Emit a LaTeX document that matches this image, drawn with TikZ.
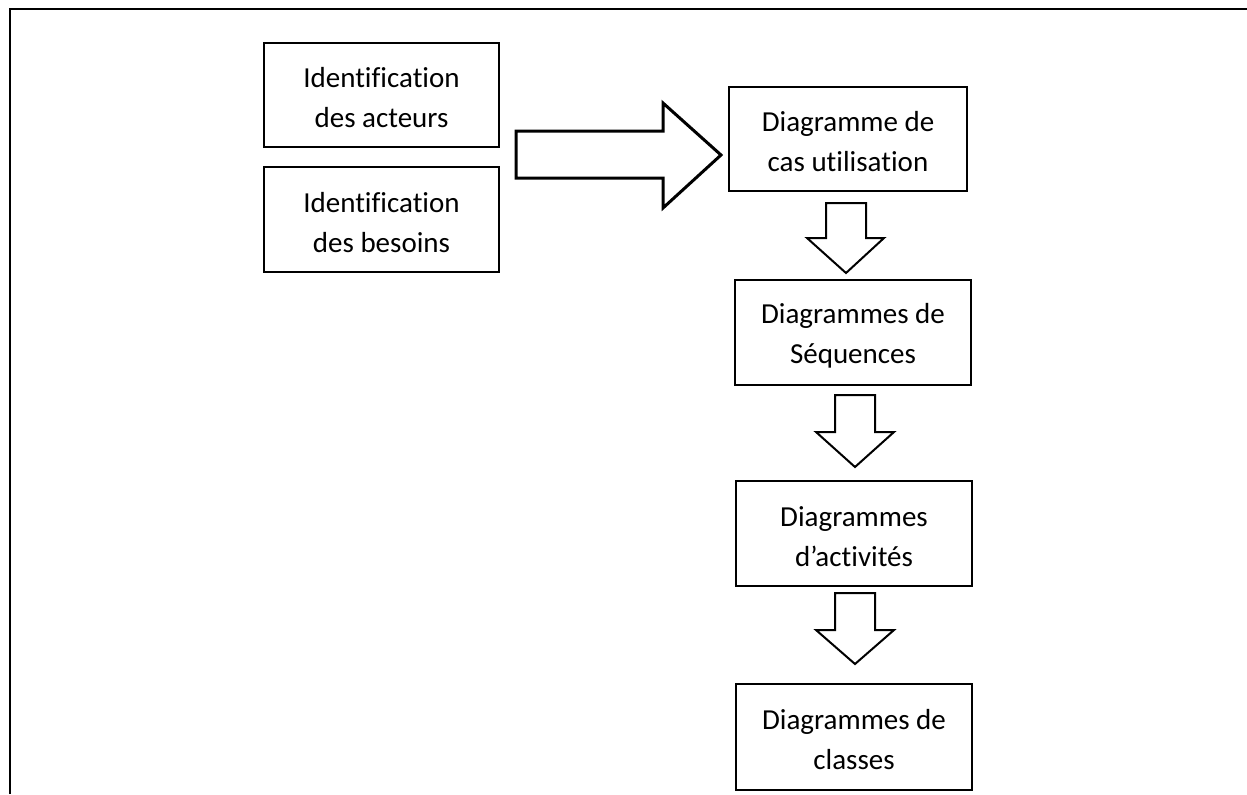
\documentclass[tikz,border=0pt]{standalone}
\usepackage{fontspec}
\setmainfont{Carlito}[Ligatures=NoCommon]
\begin{document}
\begin{tikzpicture}[x=0.5pt,y=-0.5pt,
  stepbox/.style={draw=black,line width=1pt,rectangle,inner sep=0pt},
  steptext/.style={align=center,inner sep=0pt,yshift=-1.5pt,
    font=\fontsize{14.5}{20}\selectfont},
  blockarrow/.style={draw=black,fill=white,line join=miter},
]
\useasboundingbox (0,0) rectangle (1247,794);
% open frame: top and left edges only
\draw[line width=1.1pt] (10,794) -- (10,9) -- (1247,9);

% boxes
\node[stepbox,minimum width=117.5pt,minimum height=52pt] (acteurs) at (381.5,95) {};
\node[steptext] (acteursT) at (acteurs.center) {Identification\\des acteurs};
\node[stepbox,minimum width=117.5pt,minimum height=52.5pt] (besoins) at (381.5,219.5) {};
\node[steptext] (besoinsT) at (besoins.center) {Identification\\des besoins};
\node[stepbox,minimum width=119pt,minimum height=52pt] (cas) at (848,139) {};
\node[steptext] (casT) at (cas.center) {Diagramme de\\cas utilisation};
\node[stepbox,minimum width=118pt,minimum height=52.5pt] (seq) at (853,332.5) {};
\node[steptext] (seqT) at (seq.center) {Diagrammes de\\Séquences};
\node[stepbox,minimum width=118pt,minimum height=52.5pt] (act) at (854,533.5) {};
\node[steptext] (actT) at (act.center) {Diagrammes\\d’activités};
\node[stepbox,minimum width=118pt,minimum height=53pt] (cls) at (854,737) {};
\node[steptext] (clsT) at (cls.center) {Diagrammes de\\classes};

% block arrow from the identification boxes to the use case diagram
\draw[blockarrow,line width=1.5pt] (516,131) -- (663,131) -- (663,103) -- (721,155)
  -- (663,208) -- (663,178) -- (516,178) -- cycle;

% block arrows down the chain
\draw[blockarrow,line width=1pt] (826,203) -- (866,203) -- (866,238) -- (884,238)
  -- (846,273) -- (807,238) -- (826,238) -- cycle;
\draw[blockarrow,line width=1pt] (835,395) -- (875,395) -- (875,432) -- (894,432)
  -- (855,467) -- (816,432) -- (835,432) -- cycle;
\draw[blockarrow,line width=1pt] (835,593) -- (875,593) -- (875,630) -- (894,630)
  -- (855,664) -- (816,630) -- (835,630) -- cycle;
\end{tikzpicture}
\end{document}
